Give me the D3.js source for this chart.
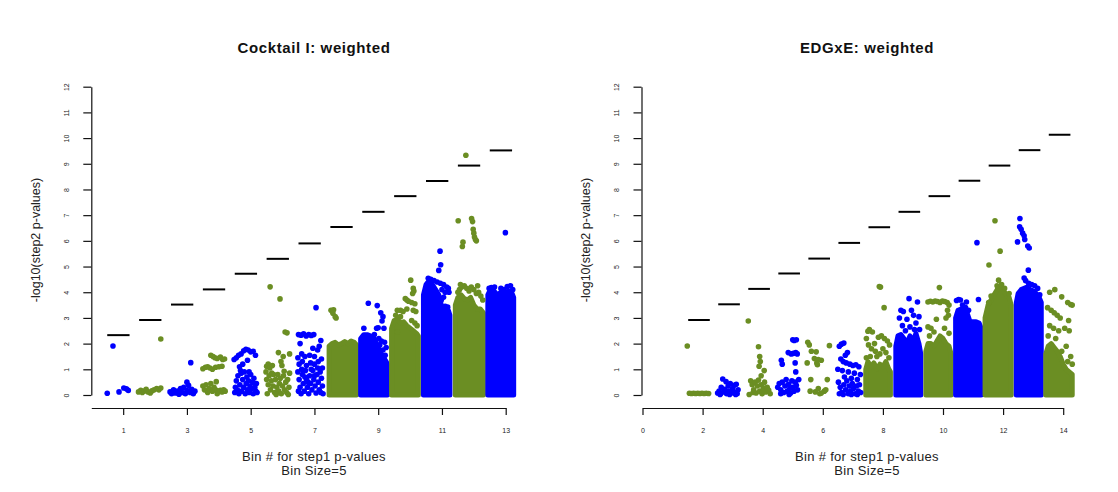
<!DOCTYPE html>
<html><head><meta charset="utf-8">
<script src="https://cdn.jsdelivr.net/npm/d3@7"></script>
<style>body{margin:0;background:#fff}svg{display:block;font-family:"Liberation Sans",Arial,sans-serif}</style>
</head><body>
<script>
// ---------------- DATA ----------------
const yTicks = [0,1,2,3,4,5,6,7,8,9,10,11,12];
const leftXTicks = [1,3,5,7,9,11,13];
const rightXTicks = [0,2,4,6,8,10,12,14];
const leftBins = [1,2,3,4,5,6,7,8,9,10,11,12,13];
const rightBins = [2,3,4,5,6,7,8,9,10,11,12,13,14];
const leftThresholds = [2.33,2.92,3.52,4.11,4.72,5.30,5.90,6.54,7.13,7.74,8.33,8.93,9.52];
const rightThresholds = [2.92,3.53,4.13,4.73,5.31,5.92,6.53,7.13,7.74,8.34,8.93,9.53,10.13];

// dense cores: [bin, [[x, top -log10 p], ...]]
const leftCores = [
 [8,[[7.46,1.9],[7.55,2.0],[7.65,2.05],[7.75,1.95],[7.85,2.0],[7.95,2.08],[8.05,2.0],[8.15,2.1],[8.25,2.05],[8.32,1.95]]],
 [9,[[8.45,2.2],[8.55,2.35],[8.65,2.35],[8.75,2.3],[8.85,2.25],[8.95,2.0],[9.05,1.7],[9.15,1.5],[9.25,1.3],[9.29,1.2]]],
 [10,[[9.42,2.6],[9.5,2.9],[9.6,2.95],[9.7,2.8],[9.8,2.85],[9.9,2.7],[10.0,2.6],[10.1,2.5],[10.2,2.4],[10.26,2.3]]],
 [11,[[10.42,3.9],[10.5,4.3],[10.6,4.45],[10.7,4.3],[10.8,4.1],[10.9,3.9],[11.0,3.4],[11.1,3.3],[11.2,3.3],[11.25,3.1]]],
 [12,[[11.42,3.5],[11.5,3.8],[11.6,3.9],[11.7,3.75],[11.8,3.7],[11.9,3.8],[12.0,3.5],[12.1,3.35],[12.2,3.35],[12.3,3.2]]],
 [13,[[12.44,3.9],[12.5,4.05],[12.6,4.1],[12.7,3.95],[12.75,3.6],[12.8,3.95],[12.9,4.05],[13.0,4.0],[13.1,4.05],[13.2,3.95],[13.25,3.8]]]
];
const rightCores = [
 [8,[[7.43,1.0],[7.5,1.3],[7.6,1.1],[7.7,1.25],[7.8,1.0],[7.9,1.2],[8.0,1.1],[8.1,1.3],[8.2,1.0],[8.25,0.9]]],
 [9,[[8.43,1.9],[8.5,2.3],[8.6,2.35],[8.7,2.2],[8.8,2.0],[8.9,2.3],[9.0,2.1],[9.1,2.4],[9.2,2.0],[9.26,1.6]]],
 [10,[[9.43,1.7],[9.5,2.0],[9.6,2.0],[9.7,1.9],[9.8,2.1],[9.9,2.3],[10.0,2.2],[10.1,2.0],[10.2,1.9],[10.27,1.6]]],
 [11,[[10.42,3.0],[10.5,3.3],[10.6,3.35],[10.7,3.25],[10.8,3.2],[10.9,2.85],[11.0,2.85],[11.1,2.85],[11.2,2.8],[11.27,2.6]]],
 [12,[[11.4,3.0],[11.5,3.5],[11.6,3.7],[11.7,3.9],[11.8,4.1],[11.9,4.2],[12.0,4.1],[12.1,3.9],[12.2,3.8],[12.27,3.5]]],
 [13,[[12.44,3.6],[12.5,3.95],[12.6,4.1],[12.7,4.15],[12.8,4.2],[12.9,4.1],[13.0,4.05],[13.1,3.95],[13.2,3.8],[13.27,3.6]]],
 [14,[[13.42,1.6],[13.5,1.9],[13.6,2.0],[13.7,1.85],[13.8,1.7],[13.9,1.5],[14.0,1.2],[14.1,1.0],[14.2,0.9],[14.3,0.8]]]
];

// individual points: [bin, [[x, -log10 p], ...]]
const leftPoints = [
 [1,[[0.50,0.07],[0.87,0.12],[1.02,0.27],[1.10,0.24],[1.16,0.18],[0.68,1.91]]],
 [2,[[1.48,0.12],[1.55,0.18],[1.6,0.1],[1.65,0.15],[1.72,0.22],[1.78,0.12],[1.85,0.08],[1.9,0.16],[1.97,0.2],[2.05,0.25],[2.12,0.2],[2.18,0.27],[2.18,2.18]]],
 [3,[[2.47,0.12],[2.52,0.05],[2.58,0.2],[2.64,0.08],[2.7,0.15],[2.75,0.03],[2.8,0.25],[2.86,0.1],[2.9,0.3],[2.95,0.05],[3.0,0.18],[3.05,0.38],[3.1,0.1],[3.15,0.22],[3.2,0.05],[3.25,0.15],[3.12,1.26],[3.0,0.5]]],
 [4,[[3.75,1.55],[3.82,1.5],[3.88,1.45],[3.95,1.42],[4.05,1.48],[4.12,1.38],[4.18,1.4],[3.5,1.02],[3.58,1.08],[3.65,1.1],[3.72,1.05],[3.8,1.0],[3.9,1.08],[4.0,1.1],[4.1,1.12],[3.92,0.52],[3.5,0.35],[3.55,0.2],[3.6,0.4],[3.65,0.1],[3.7,0.25],[3.75,0.45],[3.8,0.15],[3.85,0.3],[3.9,0.2],[3.95,0.05],[4.0,0.15],[4.05,0.18],[4.1,0.12],[4.15,0.2],[4.2,0.15]]],
 [5,[[4.48,1.38],[4.55,1.45],[4.62,1.55],[4.7,1.6],[4.78,1.72],[4.85,1.78],[4.92,1.75],[5.0,1.68],[5.08,1.7],[5.15,1.55],[4.75,1.2],[4.65,1.1],[4.9,1.35],[4.5,0.1],[4.52,0.3],[4.55,0.55],[4.58,0.2],[4.6,0.75],[4.63,0.05],[4.66,0.4],[4.7,0.85],[4.72,0.15],[4.75,0.6],[4.78,0.3],[4.8,0.9],[4.83,0.05],[4.86,0.45],[4.88,0.7],[4.9,0.2],[4.93,0.55],[4.96,0.1],[4.98,0.35],[5.0,0.8],[5.03,0.25],[5.06,0.5],[5.08,0.05],[5.1,0.65],[5.13,0.3],[5.16,0.15],[5.18,0.45],[5.2,0.1],[4.68,0.95],[4.95,0.9]]],
 [6,[[5.61,4.21],[5.92,3.74],[6.08,2.45],[6.14,2.42],[5.87,1.65],[6.22,1.6],[6.02,1.5],[5.95,1.3],[5.98,1.15],[5.5,1.12],[5.55,1.2],[5.6,1.05],[5.68,1.15],[5.72,0.8],[5.48,0.9],[5.5,0.6],[5.55,0.4],[5.58,0.75],[5.62,0.2],[5.65,0.55],[5.7,0.35],[5.75,0.1],[5.78,0.6],[5.82,0.3],[5.85,0.8],[5.88,0.15],[5.9,0.45],[5.93,0.65],[5.96,0.05],[6.0,0.35],[6.03,0.75],[6.06,0.2],[6.1,0.5],[6.13,0.1],[6.16,0.6],[6.2,0.3],[6.22,0.85],[5.52,0.05],[5.8,0.02],[6.18,0.02],[5.66,0.85],[6.05,0.92]]],
 [7,[[7.05,3.40],[6.5,2.35],[6.58,2.33],[6.66,2.38],[6.74,2.3],[6.82,2.35],[6.9,2.32],[6.98,2.35],[6.55,2.0],[7.2,2.12],[7.15,1.9],[7.1,1.75],[6.95,1.82],[6.6,1.6],[6.7,1.5],[6.85,1.55],[7.0,1.5],[7.22,1.4],[6.48,1.45],[6.52,1.2],[6.62,1.3],[6.75,1.15],[6.88,1.25],[7.0,1.2],[7.12,1.3],[7.25,1.05],[6.48,0.9],[6.52,0.6],[6.55,0.3],[6.58,0.05],[6.62,0.8],[6.65,0.45],[6.68,0.15],[6.72,0.95],[6.75,0.6],[6.78,0.3],[6.82,0.05],[6.85,0.75],[6.88,0.45],[6.92,0.2],[6.95,0.95],[6.98,0.6],[7.02,0.35],[7.05,0.08],[7.08,0.8],[7.12,0.5],[7.15,0.2],[7.18,0.9],[7.22,0.65],[7.25,0.35],[7.27,0.05],[6.6,1.0],[6.9,1.0],[7.1,1.05],[6.5,0.15],[6.7,0.7],[6.8,0.5],[7.0,0.75],[7.2,0.1]]],
 [8,[[7.52,3.3],[7.6,3.32],[7.58,3.18],[7.65,3.05],[7.68,3.0]]],
 [9,[[8.69,3.57],[8.97,3.48],[9.08,3.2],[9.15,3.05],[9.12,2.88],[8.55,2.6],[8.95,2.6],[9.0,2.62],[9.18,2.6],[8.88,2.35],[9.02,2.2],[9.1,2.1],[9.2,2.05],[9.05,1.95],[9.25,1.85],[9.15,1.75],[9.22,1.55],[8.98,1.9]]],
 [10,[[10.02,4.47],[10.1,4.15],[10.12,4.05],[10.08,3.95],[9.85,3.75],[9.9,3.7],[9.95,3.65],[10.05,3.6],[10.15,3.55],[9.6,3.3],[9.7,3.3],[9.78,3.25],[9.9,3.35],[10.1,3.3],[10.18,3.25],[9.62,3.0],[9.55,3.1],[9.7,3.05],[9.6,2.45],[10.05,2.9],[10.15,2.8],[10.22,2.7]]],
 [11,[[10.94,5.6],[10.96,5.07],[10.9,4.85],[10.57,4.54],[10.65,4.5],[10.75,4.45],[10.85,4.4],[10.95,4.35],[11.05,4.3],[11.15,4.2],[11.2,4.15],[11.22,4.0],[11.1,4.0],[11.0,4.1],[11.18,3.42],[11.1,3.45],[10.98,3.7],[11.05,3.8]]],
 [12,[[11.75,9.33],[11.51,6.78],[11.93,6.87],[11.96,6.75],[11.98,6.45],[12.0,6.3],[12.02,6.15],[12.05,6.05],[12.08,6.0],[11.66,5.95],[11.64,5.78],[11.5,4.0],[11.55,4.1],[11.62,4.2],[11.7,4.25],[11.78,4.15],[11.85,4.05],[11.92,4.2],[12.0,4.1],[12.08,3.95],[12.15,4.0],[12.22,3.85],[12.28,3.7],[11.58,4.3],[12.12,4.25]]],
 [13,[[12.99,6.32],[12.48,4.15],[12.55,4.18],[12.65,4.2],[12.85,4.15],[12.95,4.1],[13.05,4.22],[13.15,4.25],[13.22,4.1],[12.72,3.3]]]
];
const rightPoints = [
 [2,[[1.49,1.91],[1.56,0.07],[1.63,0.06],[1.7,0.07],[1.77,0.06],[1.84,0.07],[1.91,0.06],[1.98,0.07],[2.05,0.06],[2.12,0.07],[2.2,0.06]]],
 [3,[[2.5,0.08],[2.55,0.15],[2.6,0.05],[2.62,0.3],[2.67,0.62],[2.7,0.12],[2.74,0.22],[2.78,0.52],[2.8,0.05],[2.85,0.35],[2.88,0.15],[2.92,0.45],[2.95,0.08],[3.0,0.25],[3.05,0.38],[3.08,0.1],[3.12,0.42],[3.15,0.05],[3.18,0.2],[2.58,0.02],[2.9,0.02],[3.1,0.02]]],
 [4,[[3.52,2.88],[3.86,1.88],[3.9,1.5],[3.92,1.3],[3.88,1.12],[4.05,0.95],[3.95,0.75],[3.55,0.02],[3.6,0.55],[3.65,0.4],[3.7,0.2],[3.75,0.5],[3.78,0.08],[3.82,0.35],[3.86,0.58],[3.9,0.15],[3.95,0.4],[3.98,0.05],[4.02,0.28],[4.06,0.5],[4.1,0.12],[4.15,0.3],[4.2,0.18],[4.25,0.05],[3.68,0.1],[4.0,0.15]]],
 [5,[[5.0,2.15],[5.05,2.12],[5.12,2.15],[4.85,1.65],[4.95,1.6],[5.02,1.62],[5.1,1.65],[5.15,1.6],[4.62,1.35],[4.65,1.2],[5.08,1.25],[5.1,0.9],[4.5,0.3],[4.55,0.45],[4.6,0.2],[4.65,0.5],[4.7,0.1],[4.74,0.35],[4.78,0.6],[4.82,0.15],[4.86,0.42],[4.9,0.25],[4.93,0.08],[4.97,0.55],[5.0,0.3],[5.04,0.15],[5.08,0.5],[5.12,0.38],[5.16,0.2],[5.2,0.6],[4.6,0.05],[4.88,0.02]]],
 [6,[[5.5,2.05],[5.55,1.95],[5.62,1.7],[5.78,1.68],[6.22,1.92],[5.72,1.42],[5.85,1.38],[5.95,1.35],[5.48,1.25],[5.8,1.25],[5.82,1.18],[5.6,0.6],[6.15,0.6],[5.58,0.15],[5.75,0.12],[5.85,0.25],[5.9,0.05],[6.05,0.15],[6.1,0.2],[5.95,0.08]]],
 [7,[[6.55,1.9],[6.62,1.98],[6.7,2.02],[6.82,1.65],[6.75,1.55],[6.6,1.4],[6.68,1.3],[6.78,1.25],[6.9,1.2],[7.0,1.15],[7.1,1.18],[7.2,1.1],[6.5,1.0],[6.65,0.95],[6.85,0.9],[7.05,0.85],[7.25,0.8],[6.72,0.7],[6.95,0.65],[7.15,0.6],[6.52,0.5],[6.58,0.3],[6.62,0.1],[6.7,0.4],[6.76,0.2],[6.8,0.55],[6.85,0.05],[6.88,0.35],[6.92,0.15],[6.98,0.45],[7.02,0.25],[7.08,0.05],[7.12,0.35],[7.18,0.15],[7.22,0.4],[7.26,0.1],[6.55,0.05],[6.68,0.02],[6.95,0.02],[7.15,0.02]]],
 [8,[[7.88,4.22],[7.92,4.2],[8.04,3.4],[7.5,2.48],[7.55,2.55],[7.65,2.45],[7.45,2.2],[7.72,2.0],[7.85,2.25],[7.95,2.3],[8.05,2.2],[8.15,2.1],[8.22,1.95],[7.45,1.45],[7.58,1.5],[8.2,1.45],[7.8,1.5],[7.9,1.6],[7.62,1.8],[7.52,1.95],[7.75,1.7],[8.1,1.65],[8.0,1.8]]],
 [9,[[8.87,3.75],[9.15,3.62],[8.6,3.3],[8.68,3.25],[8.95,3.3],[9.02,3.1],[9.2,3.05],[8.55,3.0],[8.8,2.95],[9.1,2.8],[8.65,2.7],[8.9,2.65],[9.22,2.55],[8.75,2.5],[9.05,2.55]]],
 [10,[[9.88,4.18],[9.5,3.62],[9.58,3.65],[9.66,3.62],[9.74,3.66],[9.82,3.64],[9.9,3.6],[9.98,3.66],[10.06,3.64],[10.14,3.6],[10.2,3.5],[10.15,3.3],[10.18,3.1],[10.1,3.0],[9.78,2.95],[9.5,2.65],[9.6,2.6],[9.7,2.45],[9.55,2.3],[10.05,2.6],[10.2,2.4]]],
 [11,[[11.13,5.93],[10.45,3.68],[10.52,3.72],[10.58,3.7],[10.78,3.62],[11.18,3.72],[10.65,3.5],[10.75,3.4],[10.85,3.3]]],
 [12,[[11.73,6.78],[11.9,5.6],[11.53,5.06],[11.85,4.47],[11.8,4.25],[11.95,4.3],[12.05,4.15],[11.6,3.85],[11.52,3.6],[12.2,3.95]]],
 [13,[[12.56,6.87],[12.55,6.55],[12.6,6.45],[12.65,6.3],[12.7,6.2],[12.72,6.05],[12.48,5.96],[12.82,5.8],[12.87,5.72],[12.84,4.86],[12.7,4.55],[12.75,4.45],[12.85,4.35],[12.95,4.3],[13.05,4.25],[13.15,4.15],[13.22,3.9]]],
 [14,[[13.55,4.0],[13.72,4.1],[13.95,3.82],[14.15,3.6],[14.25,3.52],[14.3,3.5],[13.48,3.4],[13.6,3.3],[13.7,3.2],[13.8,3.1],[13.9,3.0],[14.18,2.9],[13.55,2.7],[13.68,2.6],[13.85,2.5],[14.05,2.6],[14.2,2.5],[13.5,2.3],[13.75,2.2],[14.1,1.9],[14.25,1.5],[14.15,1.3],[14.3,1.2],[13.95,1.7]]]
];

// ---------------- DRAWING ----------------
const W = 1118, H = 492;
const BLUE = '#0000ff', GREEN = '#6b8e23';
const binColor = b => (b % 2 === 1 ? BLUE : GREEN);
const svg = d3.select('body').append('svg').attr('width', W).attr('height', H);
svg.append('rect').attr('width', W).attr('height', H).attr('fill', '#fff');

function panel(cfg) {
  const x = d3.scaleLinear().domain(cfg.xDomain).range(cfg.xRange);
  const y = d3.scaleLinear().domain([0, 12]).range([395, 86.7]);
  const g = svg.append('g');

  // title
  g.append('text').attr('x', cfg.cx).attr('y', 53).attr('text-anchor', 'middle')
    .attr('font-size', 15).attr('font-weight', 'bold').attr('letter-spacing', 0.6)
    .attr('fill', '#111').text(cfg.title);

  // y axis
  const ya = g.append('g').attr('transform', `translate(${cfg.yAxisX},0)`)
    .call(d3.axisLeft(y).tickValues(yTicks).tickSize(8).tickSizeOuter(0).tickFormat(d3.format('d')));
  ya.select('.domain').attr('stroke', '#111').attr('stroke-width', 1.2);
  ya.selectAll('.tick line').attr('stroke', '#111').attr('stroke-width', 1.2);
  ya.selectAll('.tick text').attr('x', null).attr('dy', null)
    .attr('transform', 'translate(-25,0) rotate(-90)').attr('text-anchor', 'middle')
    .attr('dominant-baseline', 'central').attr('font-size', 7).attr('fill', '#222');

  // x axis
  const xa = g.append('g').attr('transform', 'translate(0,408)')
    .call(d3.axisBottom(x).tickValues(cfg.xTicks).tickSize(7).tickSizeOuter(0).tickFormat(d3.format('d')));
  xa.select('.domain').attr('stroke', '#111').attr('stroke-width', 1.2);
  xa.selectAll('.tick line').attr('stroke', '#111').attr('stroke-width', 1.2);
  xa.selectAll('.tick text').attr('y', 20).attr('font-size', 7).attr('fill', '#222');

  // axis labels
  g.append('text').attr('transform', `translate(${cfg.ylabX},240) rotate(-90)`)
    .attr('text-anchor', 'middle').attr('dominant-baseline', 'central')
    .attr('font-size', 12.5).attr('fill', '#222').text('-log10(step2 p-values)');
  g.append('text').attr('x', cfg.cx).attr('y', 461).attr('text-anchor', 'middle')
    .attr('font-size', 13).attr('letter-spacing', 0.3).attr('fill', '#222').text('Bin # for step1 p-values');
  g.append('text').attr('x', cfg.cx).attr('y', 475).attr('text-anchor', 'middle')
    .attr('font-size', 13).attr('letter-spacing', 0.3).attr('fill', '#222').text('Bin Size=5');

  // dense cores
  const area = d3.area().x(d => x(d[0])).y0(y(0)).y1(d => y(d[1]));
  g.append('g').selectAll('path').data(cfg.cores).join('path')
    .attr('d', d => area(d[1]))
    .attr('fill', d => binColor(d[0])).attr('stroke', d => binColor(d[0]))
    .attr('stroke-width', 5).attr('stroke-linejoin', 'round');

  // points
  const flat = [];
  cfg.points.forEach(([b, arr]) => arr.forEach(p => flat.push({ b, x: p[0], v: p[1] })));
  g.append('g').selectAll('circle').data(flat).join('circle')
    .attr('cx', d => x(d.x)).attr('cy', d => y(d.v)).attr('r', 2.8)
    .attr('fill', d => binColor(d.b));

  // threshold lines
  g.append('g').selectAll('line').data(cfg.bins.map((b, i) => [b, cfg.thr[i]])).join('line')
    .attr('x1', d => x(d[0] + cfg.lineL)).attr('x2', d => x(d[0] + cfg.lineR))
    .attr('y1', d => y(d[1])).attr('y2', d => y(d[1]))
    .attr('stroke', '#000').attr('stroke-width', 2);
}

panel({ title: 'Cocktail I: weighted', cx: 314, xDomain: [0, 13], xRange: [91.3, 505.7],
  yAxisX: 91.3, ylabX: 36, xTicks: leftXTicks, bins: leftBins, thr: leftThresholds,
  cores: leftCores, points: leftPoints, lineL: -0.5, lineR: 0.2 });
panel({ title: 'EDGxE: weighted', cx: 867, xDomain: [0, 14], xRange: [642.5, 1063.2],
  yAxisX: 641.5, ylabX: 586, xTicks: rightXTicks, bins: rightBins, thr: rightThresholds,
  cores: rightCores, points: rightPoints, lineL: -0.48, lineR: 0.24 });
</script>
</body></html>
